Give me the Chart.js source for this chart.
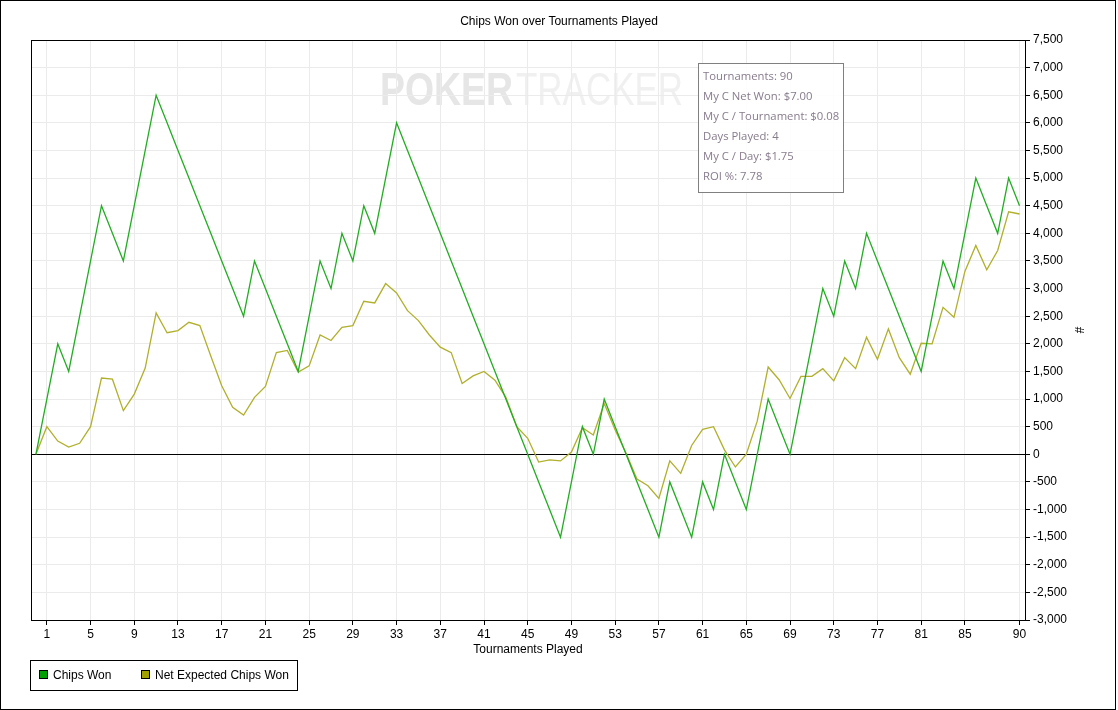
<!DOCTYPE html>
<html>
<head>
<meta charset="utf-8">
<script src="https://cdn.jsdelivr.net/npm/chart.js@4.4.0/dist/chart.umd.min.js"></script>
<style>
html,body{margin:0;padding:0;background:#fff;}
#wrap{position:relative;width:1118px;height:710px;overflow:hidden;}
#c{position:absolute;left:0;top:0;}
.title{position:absolute;top:14px;left:0;width:1118px;text-align:center;font:12px "Liberation Sans",Arial,sans-serif;color:#000;}
.info{position:absolute;left:698px;top:63px;width:146px;height:130px;border:1px solid #808080;background:rgba(255,255,255,0.88);box-sizing:border-box;padding:2px 0 0 4px;font:11.3px "Open Sans","Noto Sans",sans-serif;color:#877b8c;line-height:20px;white-space:nowrap;}
.legend{position:absolute;left:30px;top:660px;width:268px;height:31px;border:1px solid #000;box-sizing:border-box;font:12px "Liberation Sans",Arial,sans-serif;color:#000;}
.legend .item{position:absolute;top:7px;height:14px;line-height:14px;}
.legend .sw{display:inline-block;width:7px;height:7px;border:1px solid #000;vertical-align:middle;margin-right:5px;position:relative;top:-1px;}
</style>
</head>
<body>
<div id="wrap">
<canvas id="c" width="1118" height="710"></canvas>
<div class="title">Chips Won over Tournaments Played</div>
<div class="info" id="info"></div>
<div class="legend" id="legend"></div>
</div>
<script>
// ---- data ----
const chipsWon = [
  0,1000,2000,1500,2500,3500,4500,4000,3500,4500,
  5500,6500,6000,5500,5000,4500,4000,3500,3000,2500,
  3500,3000,2500,2000,1500,2500,3500,3000,4000,3500,
  4500,4000,5000,6000,5500,5000,4500,4000,3500,3000,
  2500,2000,1500,1000,500,0,-500,-1000,-1500,-500,
  500,0,1000,500,0,-500,-1000,-1500,-500,-1000,
  -1500,-500,-1000,0,-500,-1000,0,1000,500,0,
  1000,2000,3000,2500,3500,3000,4000,3500,3000,2500,
  2000,1500,2500,3500,3000,4000,5000,4500,4000,5000,
  4500
];
const netExpected = [
  0,500,240,130,200,500,1380,1360,790,1090,
  1560,2560,2200,2240,2390,2330,1780,1240,850,710,
  1030,1230,1840,1880,1490,1600,2160,2060,2300,2330,
  2770,2740,3090,2920,2600,2420,2160,1940,1840,1280,
  1420,1500,1340,1030,500,290,-140,-100,-120,40,
  480,350,920,440,20,-450,-570,-800,-120,-345,
  160,450,500,80,-230,0,600,1580,1350,1010,
  1410,1410,1550,1330,1750,1550,2120,1720,2270,1750,
  1450,2010,2000,2660,2480,3310,3780,3340,3690,4390,
  4350
];
const xTickValues = [1,5,9,13,17,21,25,29,33,37,41,45,49,53,57,61,65,69,73,77,81,85,90];
const seriesNames = ["Chips Won","Net Expected Chips Won"];
const lineColors = ["#22ad22","#b0b02c"];
const swatchColors = ["#00a000","#a0a000"];
const infoLines = ["Tournaments: 90","My C Net Won: $7.00","My C / Tournament: $0.08","Days Played: 4","My C / Day: $1.75","ROI %: 7.78"];

// ---- overlays ----
document.getElementById('info').innerHTML = infoLines.map(t=>'<div>'+t.replace(/\$/g,'&#36;')+'</div>').join('');
const leg = document.getElementById('legend');
const legX = [8, 110];
seriesNames.forEach((n,i)=>{
  const d=document.createElement('div');d.className='item';d.style.left=legX[i]+'px';
  d.innerHTML='<span class="sw" style="background:'+swatchColors[i]+'"></span>'+n;
  leg.appendChild(d);
});

const toXY = arr => arr.map((v,i)=>({x:i,y:v}));

const framePlugin = {
  id:'frame',
  beforeDraw(chart){
    const ctx=chart.ctx;
    ctx.save();
    ctx.fillStyle='#fff';ctx.fillRect(0,0,chart.width,chart.height);
    // watermark
    ctx.textBaseline='alphabetic';
    ctx.font='bold 46px "Liberation Sans",Arial,sans-serif';
    ctx.fillStyle='#e6e6e6';
    let w=ctx.measureText('POKER').width;
    ctx.save();ctx.translate(380,105);ctx.scale(133/w,1);ctx.fillText('POKER',0,0);ctx.restore();
    ctx.font='46px "Liberation Sans",Arial,sans-serif';
    ctx.fillStyle='#f0f0f0';
    w=ctx.measureText('TRACKER').width;
    ctx.save();ctx.translate(516,105);ctx.scale(167/w,1);ctx.fillText('TRACKER',0,0);ctx.restore();
    ctx.restore();
  },
  afterDraw(chart){
    const ctx=chart.ctx, a=chart.chartArea;
    ctx.save();
    ctx.strokeStyle='#000';ctx.lineWidth=1;
    ctx.strokeRect(Math.round(a.left)+0.5,Math.round(a.top)+0.5,Math.round(a.right-a.left),Math.round(a.bottom-a.top));
    ctx.strokeRect(0.5,0.5,1115,709);
    ctx.restore();
  }
};

Chart.defaults.font.family='"Liberation Sans", Arial, sans-serif';
Chart.defaults.font.size=12;
Chart.defaults.color='#000';

new Chart(document.getElementById('c'),{
  type:'line',
  data:{datasets:[
    {label:seriesNames[0],data:toXY(chipsWon),borderColor:lineColors[0],borderWidth:1.3,pointRadius:0,tension:0,fill:false},
    {label:seriesNames[1],data:toXY(netExpected),borderColor:lineColors[1],borderWidth:1.3,pointRadius:0,tension:0,fill:false}
  ]},
  options:{
    responsive:false,animation:false,devicePixelRatio:1,
    layout:{padding:{left:31,top:40,right:28,bottom:50}},
    plugins:{legend:{display:false},tooltip:{enabled:false},title:{display:false}},
    scales:{
      x:{type:'linear',min:-0.45,max:90.5,
        afterBuildTicks(s){s.ticks=xTickValues.map(v=>({value:v}));},
        afterFit(s){s.height=40;},
        ticks:{autoSkip:false,maxRotation:0,padding:2,callback:v=>String(v)},
        grid:{color:'#ebebeb',tickColor:'#000',tickLength:5,lineWidth:1},
        border:{display:true,color:'#000'},
        title:{display:true,text:'Tournaments Played',padding:{top:0,bottom:3}}
      },
      y:{position:'right',min:-3000,max:7500,
        afterFit(s){s.width=65;},
        ticks:{stepSize:500,padding:3,callback:v=>v.toLocaleString('en-US')},
        grid:{color:c=>c.tick&&c.tick.value===0?'#000':'#ebebeb',tickColor:'#000',tickLength:5,lineWidth:1},
        border:{display:true,color:'#000'},
        title:{display:true,text:'#',padding:{top:4,bottom:4}}
      }
    }
  },
  plugins:[framePlugin]
});
</script>
</body>
</html>
